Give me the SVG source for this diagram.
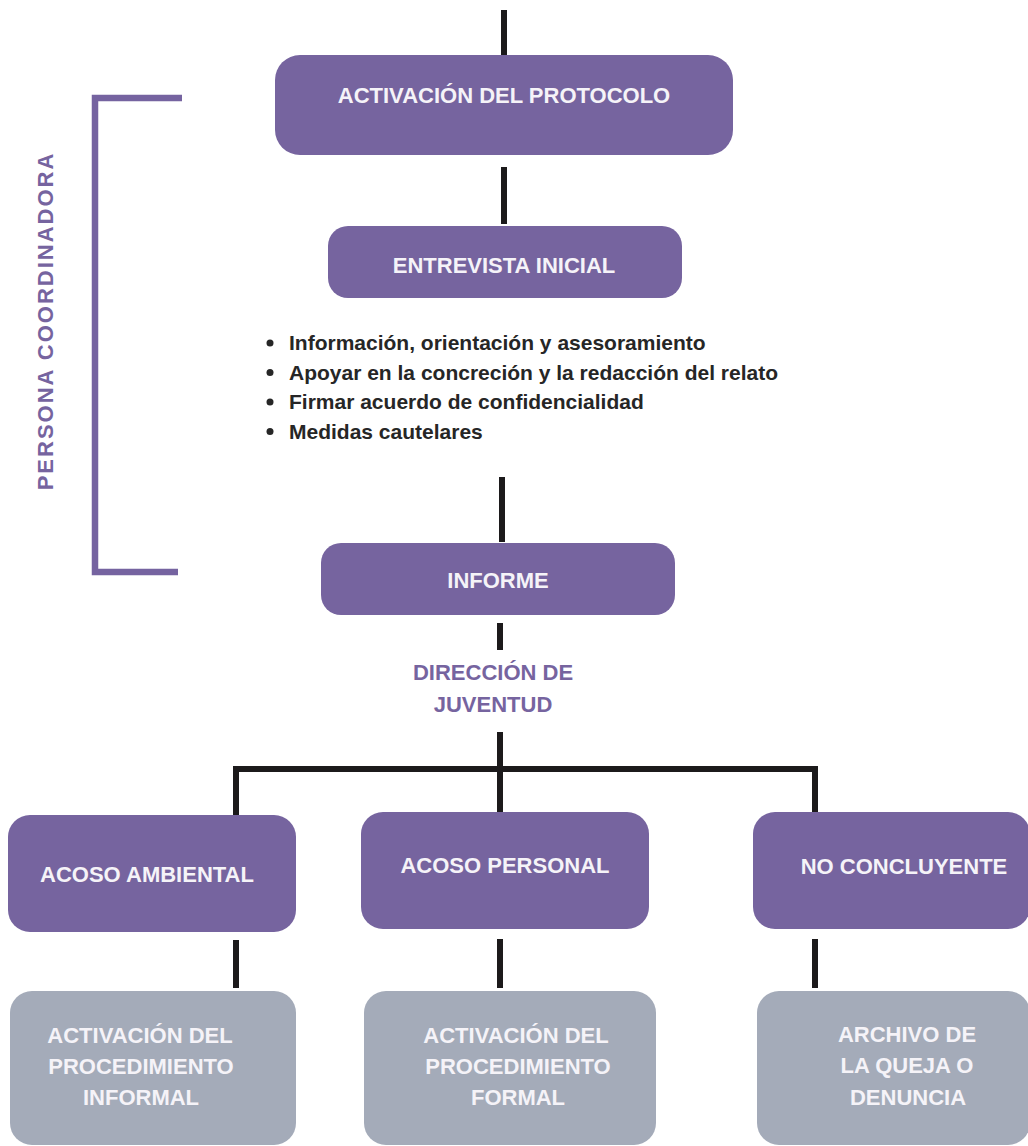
<svg xmlns="http://www.w3.org/2000/svg" width="1028" height="1146" viewBox="0 0 1028 1146">
  <style>
    .box { fill: #76649f; }
    .grey { fill: #a4abb9; }
    .lbl { font-family: "Liberation Sans", Arial, sans-serif; font-weight: bold; font-size: 22px; fill: #f5f3f8; text-anchor: middle; }
    .bul { font-family: "Liberation Sans", Arial, sans-serif; font-weight: bold; font-size: 21px; fill: #262626; }
    .pur { font-family: "Liberation Sans", Arial, sans-serif; font-weight: bold; font-size: 22px; fill: #76649f; text-anchor: middle; }
    .conn { stroke: #1c1a1b; stroke-width: 6; fill: none; }
  </style>
  <rect width="1028" height="1146" fill="#ffffff"/>

  <g id="connectors">
    <line class="conn" x1="504" y1="10" x2="504" y2="55"/>
    <line class="conn" x1="504" y1="167" x2="504" y2="224"/>
    <line class="conn" x1="502" y1="477" x2="502" y2="542"/>
    <line class="conn" x1="500" y1="623" x2="500" y2="650"/>
    <path class="conn" d="M236 815 V769 H815 V812" stroke-linejoin="miter"/>
    <line class="conn" x1="500" y1="732" x2="500" y2="812"/>
    <line class="conn" x1="236" y1="940" x2="236" y2="988"/>
    <line class="conn" x1="500" y1="939" x2="500" y2="988"/>
    <line class="conn" x1="815" y1="939" x2="815" y2="988"/>
  </g>

  <g id="bracket">
    <path d="M182 98 H95 V572 H178" stroke="#7563a0" stroke-width="6.5" fill="none"/>
    <text class="pur" font-size="21" letter-spacing="2" transform="translate(53 321) rotate(-90)">PERSONA COORDINADORA</text>
  </g>

  <g id="n-activacion">
    <rect class="box" x="275" y="55" width="458" height="100" rx="25"/>
    <text class="lbl" x="504" y="103" font-size="24">ACTIVACIÓN DEL PROTOCOLO</text>
  </g>

  <g id="n-entrevista">
    <rect class="box" x="328" y="226" width="354" height="72" rx="20"/>
    <text class="lbl" x="504" y="273">ENTREVISTA INICIAL</text>
  </g>

  <g id="n-bullets">
    <circle cx="270" cy="343" r="3.5" fill="#262626"/>
    <circle cx="270" cy="372.5" r="3.5" fill="#262626"/>
    <circle cx="270" cy="402" r="3.5" fill="#262626"/>
    <circle cx="270" cy="431.5" r="3.5" fill="#262626"/>
    <text class="bul" x="289" y="350">Información, orientación y asesoramiento</text>
    <text class="bul" x="289" y="379.5">Apoyar en la concreción y la redacción del relato</text>
    <text class="bul" x="289" y="409">Firmar acuerdo de confidencialidad</text>
    <text class="bul" x="289" y="438.5">Medidas cautelares</text>
  </g>

  <g id="n-informe">
    <rect class="box" x="321" y="543" width="354" height="72" rx="20"/>
    <text class="lbl" x="498" y="588">INFORME</text>
  </g>

  <g id="n-direccion">
    <text class="pur" x="493" y="680">DIRECCIÓN DE</text>
    <text class="pur" x="493" y="712">JUVENTUD</text>
  </g>

  <g id="n-ambiental">
    <rect class="box" x="8" y="815" width="288" height="117" rx="22"/>
    <text class="lbl" x="147" y="882">ACOSO AMBIENTAL</text>
  </g>

  <g id="n-personal">
    <rect class="box" x="361" y="812" width="288" height="117" rx="22"/>
    <text class="lbl" x="505" y="873">ACOSO PERSONAL</text>
  </g>

  <g id="n-noconcluyente">
    <rect class="box" x="753" y="812" width="277" height="117" rx="22"/>
    <text class="lbl" x="904" y="874">NO CONCLUYENTE</text>
  </g>

  <g id="n-informal">
    <rect class="grey" x="10" y="991" width="286" height="154" rx="22"/>
    <text class="lbl" x="140" y="1043">ACTIVACIÓN DEL</text>
    <text class="lbl" x="141" y="1074">PROCEDIMIENTO</text>
    <text class="lbl" x="141" y="1105">INFORMAL</text>
  </g>

  <g id="n-formal">
    <rect class="grey" x="364" y="991" width="292" height="154" rx="22"/>
    <text class="lbl" x="516" y="1043">ACTIVACIÓN DEL</text>
    <text class="lbl" x="518" y="1074">PROCEDIMIENTO</text>
    <text class="lbl" x="518" y="1105">FORMAL</text>
  </g>

  <g id="n-archivo">
    <rect class="grey" x="757" y="991" width="273" height="154" rx="22"/>
    <text class="lbl" x="907" y="1042">ARCHIVO DE</text>
    <text class="lbl" x="907" y="1073">LA QUEJA O</text>
    <text class="lbl" x="908" y="1105">DENUNCIA</text>
  </g>
</svg>
